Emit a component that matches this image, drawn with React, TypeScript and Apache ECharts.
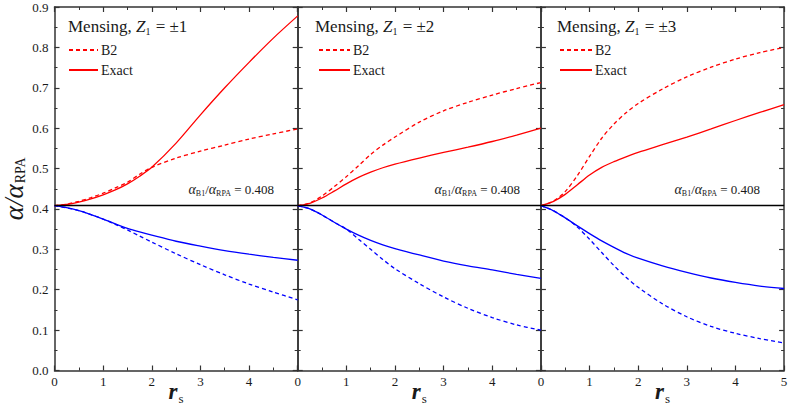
import React, { useEffect, useRef } from 'react';
import * as echarts from 'echarts';

const FONT = 'Liberation Serif';

// r_s sample points
const rs = [0, 0.25, 0.5, 0.75, 1, 1.25, 1.5, 1.75, 2, 2.5, 3, 3.5, 4, 4.5, 5];

// Panel titles (Z1 values)
const zLabels = ['±1', '±2', '±3'];

// Positive-charge curves (red)
const b2Pos = [
  [0.408, 0.412, 0.419, 0.428, 0.439, 0.452, 0.466, 0.486, 0.503, 0.526, 0.543, 0.558, 0.573, 0.586, 0.598],
  [0.408, 0.415, 0.432, 0.455, 0.480, 0.507, 0.535, 0.558, 0.578, 0.615, 0.643, 0.664, 0.682, 0.698, 0.713],
  [0.408, 0.419, 0.443, 0.483, 0.530, 0.575, 0.610, 0.638, 0.661, 0.697, 0.727, 0.751, 0.771, 0.787, 0.800],
];
const exactPos = [
  [0.408, 0.411, 0.417, 0.425, 0.435, 0.447, 0.462, 0.481, 0.503, 0.563, 0.633, 0.700, 0.763, 0.823, 0.878],
  [0.408, 0.414, 0.427, 0.444, 0.462, 0.478, 0.491, 0.502, 0.511, 0.526, 0.540, 0.553, 0.567, 0.583, 0.600],
  [0.408, 0.418, 0.436, 0.460, 0.484, 0.503, 0.517, 0.529, 0.540, 0.559, 0.578, 0.598, 0.619, 0.639, 0.658],
];
// Negative-charge curves (blue)
const b2Neg = [
  [0.408, 0.403, 0.396, 0.386, 0.375, 0.362, 0.348, 0.333, 0.318, 0.289, 0.262, 0.237, 0.214, 0.194, 0.175],
  [0.408, 0.400, 0.385, 0.367, 0.350, 0.325, 0.300, 0.275, 0.252, 0.215, 0.182, 0.154, 0.131, 0.113, 0.100],
  [0.408, 0.396, 0.378, 0.355, 0.325, 0.292, 0.260, 0.231, 0.206, 0.165, 0.133, 0.109, 0.092, 0.079, 0.068],
];
const exactNeg = [
  [0.408, 0.403, 0.396, 0.386, 0.375, 0.363, 0.352, 0.343, 0.335, 0.320, 0.308, 0.297, 0.288, 0.280, 0.273],
  [0.408, 0.400, 0.385, 0.367, 0.350, 0.335, 0.322, 0.311, 0.302, 0.286, 0.271, 0.259, 0.249, 0.238, 0.228],
  [0.408, 0.396, 0.378, 0.358, 0.339, 0.321, 0.305, 0.290, 0.278, 0.259, 0.243, 0.229, 0.218, 0.209, 0.203],
];
const b1Ratio = 0.408;
const yTickLabels = ['0.0', '0.1', '0.2', '0.3', '0.4', '0.5', '0.6', '0.7', '0.8', '0.9'];

// layout
const GL = [54.5, 297.7, 540.9];
const GW = 243.2;
const GT = 7;
const GH = 363.5;
const titleX = [68, 315, 557];
const legendX = [68, 318, 559];
const legendW = [29, 31, 32];
const annotRight = [274, 520, 760];

const AX = '#333';
const TXT = '#1a1a1a';

export default function App() {
  const ref = useRef<HTMLDivElement>(null);
  useEffect(() => {
    document.body.style.margin = '0';
    const chart = echarts.init(ref.current!, undefined, { renderer: 'svg' });

    const grids: any[] = [];
    const xAxes: any[] = [];
    const yAxes: any[] = [];
    const series: any[] = [];
    const legends: any[] = [];
    const graphics: any[] = [];

    const tickCommon = {
      axisLine: { onZero: false, lineStyle: { color: AX, width: 1.5 } },
      axisTick: { inside: true, length: 5, lineStyle: { color: AX, width: 1.2 } },
      minorTick: { show: true, splitNumber: 2, length: 3, lineStyle: { color: AX, width: 1 } },
      splitLine: { show: false },
    };

    for (let i = 0; i < 3; i++) {
      grids.push({ left: GL[i], top: GT, width: GW, height: GH, containLabel: false, outerBoundsMode: 'none' });
      xAxes.push({
        type: 'value', gridIndex: i, min: 0, max: 5, interval: 1, position: 'bottom',
        ...tickCommon,
        axisLabel: { fontFamily: FONT, fontSize: 13, color: TXT, margin: 4, showMaxLabel: i === 2 },
        name: '{r|r}{s|s}', nameLocation: 'middle', nameGap: 7, nameMoveOverlap: false,
        nameTextStyle: {
          fontFamily: FONT,
          rich: {
            r: { fontSize: 23, fontStyle: 'italic', fontWeight: 'bold', fontFamily: FONT, color: TXT },
            s: { fontSize: 13, fontFamily: FONT, color: TXT, padding: [14, 0, 0, 1] },
          },
        },
      });
      xAxes.push({
        type: 'value', gridIndex: i, min: 0, max: 5, interval: 1, position: 'top',
        ...tickCommon,
        axisLabel: { show: false },
      });
      yAxes.push({
        type: 'value', gridIndex: i, min: 0, max: 0.9, interval: 0.1, position: 'left',
        ...tickCommon,
        axisLabel: {
          show: i === 0, fontFamily: FONT, fontSize: 13, color: TXT, margin: 6,
          formatter: (v: number) => yTickLabels[Math.round(v * 10)] ?? '',
        },
        ...(i === 0
          ? {
              name: '{a|α/α}{s|RPA}', nameLocation: 'middle', nameRotate: 90, nameGap: 27,
              nameMoveOverlap: false,
              nameTextStyle: {
                fontFamily: FONT,
                rich: {
                  a: { fontSize: 27, fontStyle: 'italic', fontFamily: FONT, color: TXT },
                  s: { fontSize: 14, fontFamily: FONT, color: TXT, padding: [14, 0, 0, 1] },
                },
              },
            }
          : {}),
      });
      yAxes.push({
        type: 'value', gridIndex: i, min: 0, max: 0.9, interval: 0.1, position: 'right',
        ...tickCommon,
        axisLabel: { show: false },
      });

      const mk = (name: string, vals: number[], color: string, dashed: boolean, extra: any = {}) => ({
        type: 'line', name, xAxisIndex: 2 * i, yAxisIndex: 2 * i,
        data: rs.map((x, k) => [x, vals[k]]),
        symbol: 'none', smooth: 0.3, silent: true,
        lineStyle: { color, width: 1.3, type: dashed ? [4, 3] : 'solid' },
        itemStyle: { color },
        ...extra,
      });
      series.push(mk('B2', b2Pos[i], '#ff0000', true));
      series.push(
        mk('Exact', exactPos[i], '#ff0000', false, {
          markLine: {
            silent: true, symbol: 'none', animation: false,
            label: { show: false },
            lineStyle: { color: '#000', width: 1.3, type: 'solid' },
            data: [{ yAxis: b1Ratio }],
          },
        })
      );
      series.push(mk('B2 (negative)', b2Neg[i], '#0000ff', true));
      series.push(mk('Exact (negative)', exactNeg[i], '#0000ff', false));

      legends.push({
        data: ['B2', 'Exact'], orient: 'vertical', left: legendX[i], top: 43, padding: 0,
        itemWidth: legendW[i], itemHeight: 10, itemGap: 6, selectedMode: false,
        itemStyle: { opacity: 0 },
        textStyle: { fontFamily: FONT, fontSize: 14, color: TXT, padding: [0, 0, 0, -2] },
      });

      graphics.push({
        type: 'text', x: titleX[i], y: 26, silent: true,
        style: {
          text: `{t|Mensing, }{z|Z}{s|1}{t| = ${zLabels[i]}}`,
          align: 'left', verticalAlign: 'middle', fill: TXT, fontFamily: FONT,
          rich: {
            t: { fontSize: 17, fontFamily: FONT, fill: TXT },
            z: { fontSize: 17, fontFamily: FONT, fontStyle: 'italic', fill: TXT },
            s: { fontSize: 10, fontFamily: FONT, fill: TXT, padding: [11, 1, 0, 0] },
          },
        },
      });
      graphics.push({
        type: 'text', x: annotRight[i], y: 189, silent: true,
        style: {
          text: '{a|α}{s|B1}{n|/}{a|α}{s|RPA}{n| = 0.408}',
          align: 'right', verticalAlign: 'middle', fill: TXT, fontFamily: FONT,
          rich: {
            a: { fontSize: 14, fontFamily: FONT, fontStyle: 'italic', fill: TXT },
            s: { fontSize: 8, fontFamily: FONT, fill: TXT, padding: [9, 0, 0, 0] },
            n: { fontSize: 13, fontFamily: FONT, fill: TXT },
          },
        },
      });
    }

    chart.setOption({
      animation: false,
      backgroundColor: '#fff',
      textStyle: { fontFamily: FONT },
      grid: grids,
      xAxis: xAxes,
      yAxis: yAxes,
      legend: legends,
      series,
      graphic: graphics,
    });
    return () => chart.dispose();
  }, []);
  return <div ref={ref} style={{ width: 789, height: 410 }} />;
}
